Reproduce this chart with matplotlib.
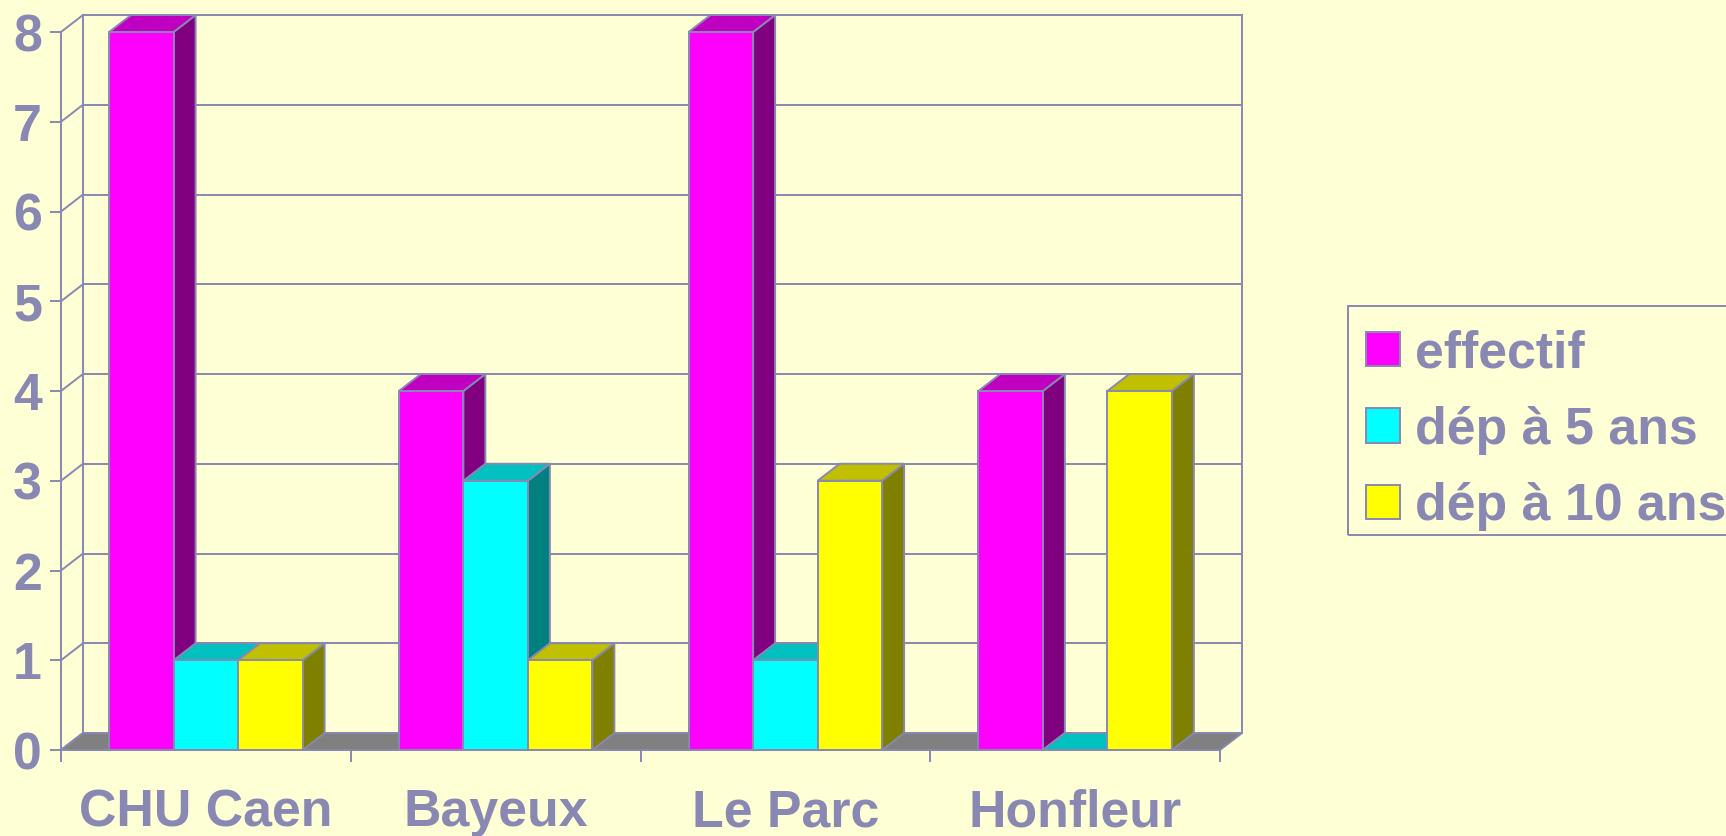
import matplotlib
matplotlib.use('Agg')
import matplotlib.pyplot as plt
from matplotlib.patches import Polygon, Patch, Rectangle

categories = ['CHU Caen', 'Bayeux', 'Le Parc', 'Honfleur']
series_names = ['effectif', 'dép à 5 ans', 'dép à 10 ans']
effectif = [8, 4, 8, 4]
dep5 = [1, 3, 1, 0]
dep10 = [1, 1, 3, 4]
y_ticks = [0, 1, 2, 3, 4, 5, 6, 7, 8]

front_colors = ['#FF00FF', '#00FFFF', '#FFFF00']
top_colors = ['#C000C0', '#00C0C0', '#C0C000']
side_colors = ['#800080', '#008080', '#808000']
BG = '#FFFFD6'
INK = '#8888B2'
FLOOR = '#808080'

plt.rcParams['font.family'] = ['Liberation Sans', 'DejaVu Sans']
plt.rcParams['font.weight'] = 'bold'

W, H = 1726, 836
fig = plt.figure(figsize=(W / 100, H / 100), dpi=100, facecolor=BG)
x0, x1, y0, y1 = 61, 1220, 32, 750  # front plane in pixels
ax = fig.add_axes([x0 / W, 1 - y1 / H, (x1 - x0) / W, (y1 - y0) / H])
ncat = len(categories)
ymax = y_ticks[-1]
ax.set_xlim(0, ncat)
ax.set_ylim(0, ymax)
ax.patch.set_visible(False)
for s in ax.spines.values():
    s.set_visible(False)

dx = 22 / ((x1 - x0) / ncat)
dy = 17 / ((y1 - y0) / ymax)
LW = 1.4

# walls / grid
for v in y_ticks:
    ax.plot([dx, ncat + dx], [v + dy, v + dy], color=INK, lw=LW, clip_on=False, zorder=1)
    ax.plot([0, dx], [v, v + dy], color=INK, lw=LW, clip_on=False, zorder=1)
ax.plot([dx, dx], [dy, ymax + dy], color=INK, lw=LW, clip_on=False, zorder=1)
ax.plot([ncat + dx, ncat + dx], [dy, ymax + dy], color=INK, lw=LW, clip_on=False, zorder=1)
ax.plot([0, 0], [0, ymax], color=INK, lw=LW, clip_on=False, zorder=1)

# floor
ax.add_patch(Polygon([(0, 0), (ncat, 0), (ncat + dx, dy), (dx, dy)], closed=True,
                     facecolor=FLOOR, edgecolor=INK, lw=LW, clip_on=False, zorder=2))

series = [effectif, dep5, dep10]
bw = 0.2226
gap = (1 - bw * len(series)) / 2
z = 3
for i in range(ncat):
    for j, vals in enumerate(series):
        v = vals[i]
        l = i + gap + j * bw
        r = l + bw
        ax.add_patch(Polygon([(r, 0), (r + dx, dy), (r + dx, v + dy), (r, v)], closed=True,
                             facecolor=side_colors[j], edgecolor=INK, lw=LW, clip_on=False, zorder=z))
        ax.add_patch(Polygon([(l, v), (r, v), (r + dx, v + dy), (l + dx, v + dy)], closed=True,
                             facecolor=top_colors[j], edgecolor=INK, lw=LW, clip_on=False, zorder=z))
        if v > 0:
            ax.bar(l, v, width=bw, align='edge', color=front_colors[j], edgecolor=INK,
                   linewidth=LW, clip_on=False, zorder=z + 0.5)
        z += 1

# front x axis line
ax.plot([0, ncat], [0, 0], color=INK, lw=LW, clip_on=False, zorder=z + 1)

FS = 37.4
ax.set_yticks(y_ticks)
ax.set_yticklabels([str(t) for t in y_ticks])
ax.tick_params(axis='y', length=7.9, width=LW, color=INK, pad=5.8, labelsize=FS, labelcolor=INK)
ax.set_xticks(list(range(ncat + 1)))
ax.set_xticklabels([])
ax.tick_params(axis='x', which='major', length=8.6, width=LW, color=INK)
ax.set_xticks([i + 0.5 for i in range(ncat)], minor=True)
ax.set_xticklabels(categories, minor=True)
ax.tick_params(axis='x', which='minor', length=0, pad=27.5, labelsize=FS, labelcolor=INK)

# legend
handles = [Patch(facecolor=front_colors[j], edgecolor=INK, linewidth=LW) for j in range(len(series))]
leg = fig.legend(handles, series_names, loc='upper left',
                 bbox_to_anchor=(1348 / W, 1 - 311 / H), bbox_transform=fig.transFigure,
                 fontsize=FS, frameon=False, borderpad=0.35, handlelength=0.65, handleheight=0.65,
                 handletextpad=0.29, labelspacing=0.53, borderaxespad=0, labelcolor=INK)
fig.add_artist(Rectangle((1348 / W, 1 - 535 / H), (W + 10 - 1348) / W, (535 - 306) / H,
                         transform=fig.transFigure, facecolor='none', edgecolor=INK,
                         lw=LW, clip_on=False, zorder=0))

fig.savefig('out.png', dpi=100, facecolor=BG)
